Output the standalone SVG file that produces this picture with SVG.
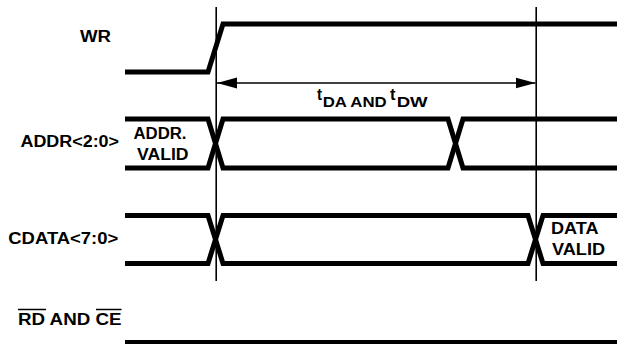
<svg xmlns="http://www.w3.org/2000/svg" width="617" height="344" viewBox="0 0 617 344">
<style>
.sig{fill:none;stroke:#000;stroke-width:5;stroke-linejoin:miter;stroke-miterlimit:10}
.ref{fill:none;stroke:#000;stroke-width:1.6}
.lbl{font-family:"Liberation Sans",Arial,sans-serif;font-weight:bold;font-size:16px;fill:#000}
.sub{font-family:"Liberation Sans",Arial,sans-serif;font-weight:bold;font-size:14px;fill:#000}
</style>
<defs>
<marker id="ah" markerUnits="userSpaceOnUse" markerWidth="20" markerHeight="12" refX="20" refY="6" orient="auto-start-reverse">
<path d="M0,0.5 L20,6 L0,11.5 Z" fill="#000"/>
</marker>
</defs>
<rect width="617" height="344" fill="#fff"/>
<g id="connectors">
<line class="ref" x1="216.2" y1="7" x2="216.2" y2="281"/>
<line class="ref" x1="536.2" y1="7" x2="536.2" y2="281"/>
<line class="ref" x1="217" y1="83" x2="535.5" y2="83" marker-start="url(#ah)" marker-end="url(#ah)"/>
</g>
<g id="timing-label">
<text class="lbl" x="317" y="100" textLength="5" lengthAdjust="spacingAndGlyphs">t</text>
<text class="sub" x="322.7" y="107" textLength="64" lengthAdjust="spacingAndGlyphs">DA AND</text>
<text class="lbl" x="390" y="100" textLength="5.5" lengthAdjust="spacingAndGlyphs">t</text>
<text class="sub" x="396.7" y="107" textLength="31" lengthAdjust="spacingAndGlyphs">DW</text>
</g>
<g id="wr">
<text class="lbl" x="80" y="41.5" textLength="31" lengthAdjust="spacingAndGlyphs">WR</text>
<path class="sig" d="M125,72 H208 L223,24 H617"/>
</g>
<g id="addr">
<text class="lbl" x="20.5" y="147" textLength="98.5" lengthAdjust="spacingAndGlyphs">ADDR&lt;2:0&gt;</text>
<path class="sig" d="M125,119 H208 L223,168 H448 L463,119 H617"/>
<path class="sig" d="M125,168 H208 L223,119 H448 L463,168 H617"/>
<text class="lbl" x="133.5" y="139" textLength="53" lengthAdjust="spacingAndGlyphs">ADDR.</text>
<text class="lbl" x="137" y="160" textLength="51.5" lengthAdjust="spacingAndGlyphs">VALID</text>
</g>
<g id="cdata">
<text class="lbl" x="8.3" y="243.5" textLength="110" lengthAdjust="spacingAndGlyphs">CDATA&lt;7:0&gt;</text>
<path class="sig" d="M125,215.5 H208 L223,263.5 H528 L543,215.5 H617"/>
<path class="sig" d="M125,263.5 H208 L223,215.5 H528 L543,263.5 H617"/>
<text class="lbl" x="551" y="234.3" textLength="47.5" lengthAdjust="spacingAndGlyphs">DATA</text>
<text class="lbl" x="552" y="255" textLength="53" lengthAdjust="spacingAndGlyphs">VALID</text>
</g>
<g id="rdce">
<text class="lbl" x="18" y="324.5" textLength="103.5" lengthAdjust="spacingAndGlyphs">RD AND CE</text>
<line x1="18" y1="309.5" x2="46" y2="309.5" stroke="#000" stroke-width="1.5"/>
<line x1="96" y1="309.5" x2="121.5" y2="309.5" stroke="#000" stroke-width="1.5"/>
<path class="sig" d="M125,342.5 H617"/>
</g>
</svg>
